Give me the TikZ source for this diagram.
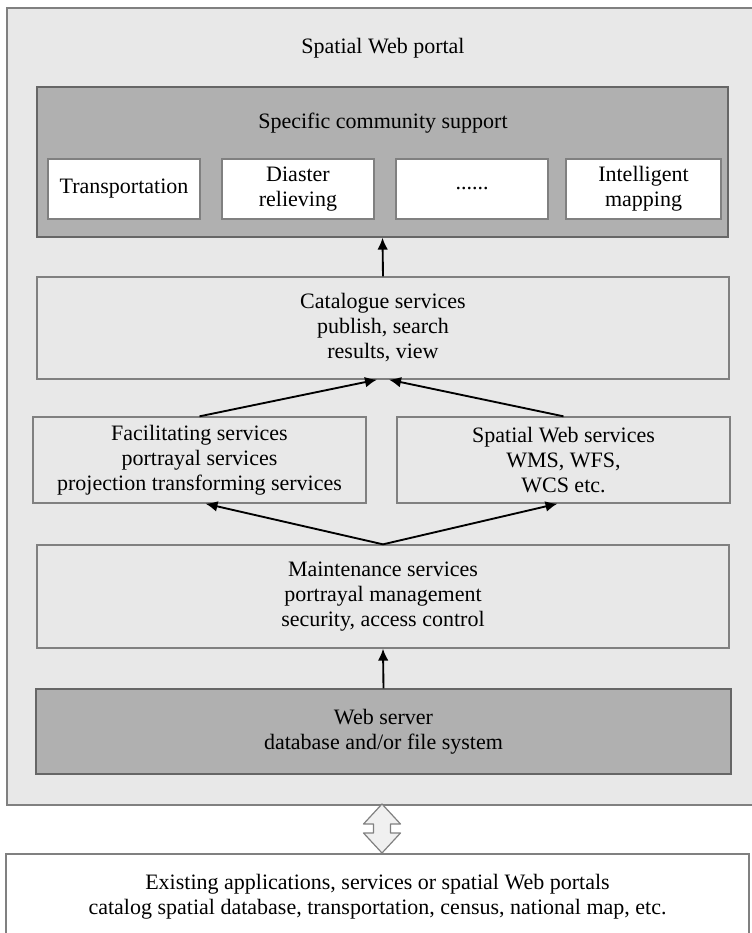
\documentclass[tikz,border=0pt]{standalone}
\usepackage{fontspec}
\setmainfont{Liberation Serif}
\usetikzlibrary{arrows.meta}

\begin{document}
\begin{tikzpicture}[x=0.75pt,y=-0.75pt,font=\fontsize{16.5}{18.75}\selectfont]
\tikzstyle{frame}=[rectangle, draw=black!50, line width=1pt, fill=black!9, inner sep=0pt]
\tikzstyle{dark}=[rectangle, text centered, align=center, draw=black!60, line width=1pt, fill=black!31, inner sep=0pt]
\tikzstyle{box}=[rectangle, text centered, align=center, draw=black!50, line width=1pt, fill=black!9, inner sep=0pt]
\tikzstyle{wbox}=[box, fill=white, minimum width=114pt, minimum height=45pt]
\tikzstyle{arrow}=[line width=1.4pt,-{Latex[length=9pt,width=8pt]}]
\tikzstyle{hollow}=[draw=black!50, fill=black!6, line width=0.9pt, line join=round]
\useasboundingbox (0,0) rectangle (751,933);
% portal and the layers inside it
\node[frame, minimum width=564.75pt, minimum height=597.75pt] (portal) at (383.5,406.5) {};
\node (ttl) at (383,48) {Spatial Web portal};
\node[dark, minimum width=518.25pt, minimum height=112.5pt] (csup) at (382.5,162) {};
\node (ctxt) at (383,123) {Specific community support};
\node[wbox] (c1) at (124,189) {Transportation};
\node[wbox] (c2) at (298,189) {Diaster\\relieving};
\node[wbox] (c3) at (472,189) {......};
\node[wbox, minimum width=116.25pt] (c4) at (643.5,189) {Intelligent\\mapping};
\node[box, minimum width=519pt, minimum height=76.5pt] (cat) at (383,328) {Catalogue services\\publish, search\\results, view};
\node[box, minimum width=249.75pt, minimum height=64.5pt] (fac) at (199.5,460) {Facilitating services\\portrayal services\\projection transforming services};
\node[box, minimum width=249.75pt, minimum height=64.5pt] (sws) at (563.5,460) {Spatial Web services\\WMS, WFS,\\WCS etc.};
\node[box, minimum width=519pt, minimum height=77.25pt] (mnt) at (383,596.5) {Maintenance services\\portrayal management\\security, access control};
\node[dark, minimum width=521.25pt, minimum height=63.75pt] (srv) at (383.5,731.5) {Web server\\database and/or file system};
% outside the portal
\node[box, fill=white, minimum width=557.25pt, minimum height=63.75pt] (ext) at (377.5,896.5) {Existing applications, services or spatial Web portals\\catalog spatial database, transportation, census, national map, etc.};
% two-way block arrow between portal and the outside
\coordinate (dbl) at (382,828.5);
\draw[hollow, shift={(dbl)}] (0,-24.5) -- (18.5,-4.5) -- (8.5,-4.5) -- (8.5,4.5) -- (18.5,4.5)
  -- (0,24.5) -- (-18.5,4.5) -- (-8.5,4.5) -- (-8.5,-4.5) -- (-18.5,-4.5) -- cycle;
% connectors
\draw[arrow] (cat.north) -- (csup.south);
\draw[arrow] (fac.north) -- ([xshift=-4.5pt]cat.south);
\draw[arrow] (sws.north) -- ([xshift=4.5pt]cat.south);
\draw[arrow] (mnt.north) -- ([xshift=4.5pt]fac.south);
\draw[arrow] (mnt.north) -- ([xshift=-4.5pt]sws.south);
\draw[arrow] (srv.north) -- (mnt.south);
\end{tikzpicture}
\end{document}
